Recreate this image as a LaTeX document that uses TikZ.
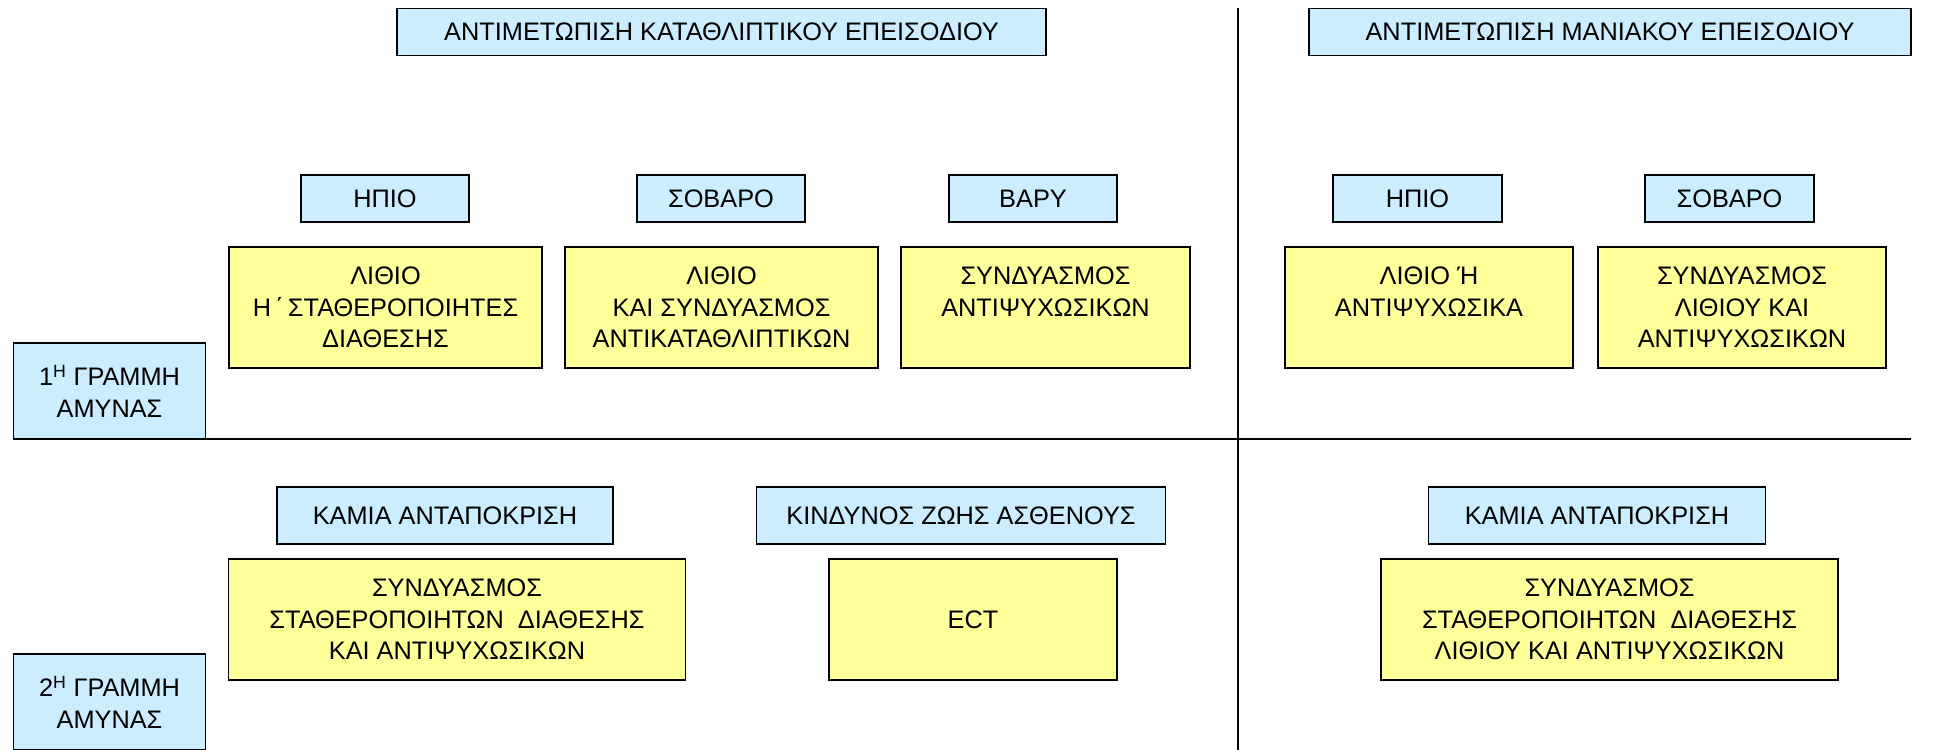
\documentclass[tikz,border=0pt]{standalone}
\usepackage{fontspec}
\setmainfont{Liberation Sans}
\definecolor{paleblue}{RGB}{204,236,255}
\definecolor{paleyellow}{RGB}{255,255,153}
\tikzset{every picture/.style={line width=1.35pt}}
\tikzset{
  boxtext/.style={draw, inner sep=0pt, outer sep=0pt, align=center,
    font=\fontsize{19}{23.6}\selectfont},
  bluebox/.style={boxtext, fill=paleblue},
  yellowbox/.style={boxtext, fill=paleyellow},
  sz/.style 2 args={minimum width=#1*0.75pt, minimum height=#2*0.75pt},
}

\begin{document}
\begin{tikzpicture}[x=0.75pt,y=0.75pt,yscale=-1,xscale=1]
\useasboundingbox (0,0) rectangle (1933,749);

% Headers
\node [bluebox, sz={649}{47}] (hdrdep) at (721.5,32) {ΑΝΤΙΜΕΤΩΠΙΣΗ ΚΑΤΑΘΛΙΠΤΙΚΟΥ ΕΠΕΙΣΟΔΙΟΥ};
\node [bluebox, sz={602}{47}] (hdrman) at (1610,32) {ΑΝΤΙΜΕΤΩΠΙΣΗ ΜΑΝΙΑΚΟΥ ΕΠΕΙΣΟΔΙΟΥ};

% Dividers
\coordinate (vtop) at (1238,8);
\coordinate (vbot) at (1238,760);
\draw (vtop) -- (vbot);

% Lines of defence
\node [bluebox, sz={192}{96}] (linei) at (109.5,391) {1\textsuperscript{Η} ΓΡΑΜΜΗ\\ΑΜΥΝΑΣ};
\node [bluebox, sz={192}{96}] (lineii) at (109.5,702) {2\textsuperscript{Η} ΓΡΑΜΜΗ\\ΑΜΥΝΑΣ};
\coordinate (hend) at (1911,439);
\draw (linei.south west) -- (hend);

% First line: severity
\node [bluebox, sz={168}{47}] (milddep) at (385,198.5) {ΗΠΙΟ};
\node [bluebox, sz={168}{47}] (moddep) at (721,198.5) {ΣΟΒΑΡΟ};
\node [bluebox, sz={168}{47}] (sevdep) at (1033,198.5) {ΒΑΡΥ};
\node [bluebox, sz={169}{47}] (mildman) at (1417.5,198.5) {ΗΠΙΟ};
\node [bluebox, sz={169}{47}] (modman) at (1729.5,198.5) {ΣΟΒΑΡΟ};

% First line: treatment
\node [yellowbox, sz={313}{121}] (trmilddep) at (385.5,307.5) {ΛΙΘΙΟ\\Η\,΄\,ΣΤΑΘΕΡΟΠΟΙΗΤΕΣ\\ΔΙΑΘΕΣΗΣ};
\node [yellowbox, sz={313}{121}] (trmoddep) at (721.5,307.5) {ΛΙΘΙΟ\\ΚΑΙ ΣΥΝΔΥΑΣΜΟΣ\\ΑΝΤΙΚΑΤΑΘΛΙΠΤΙΚΩΝ};
\node [yellowbox, sz={289}{121}] (trsevdep) at (1045.5,307.5) {ΣΥΝΔΥΑΣΜΟΣ\\ΑΝΤΙΨΥΧΩΣΙΚΩΝ\\~};
\node [yellowbox, sz={288}{121}] (trmildman) at (1429,307.5) {ΛΙΘΙΟ Ή\\ΑΝΤΙΨΥΧΩΣΙΚΑ\\~};
\node [yellowbox, sz={288}{121}] (trmodman) at (1742,307.5) {ΣΥΝΔΥΑΣΜΟΣ\\ΛΙΘΙΟΥ ΚΑΙ\\ΑΝΤΙΨΥΧΩΣΙΚΩΝ};

% Second line: condition
\node [bluebox, sz={336}{57}] (nrdep) at (445,515.5) {ΚΑΜΙΑ ΑΝΤΑΠΟΚΡΙΣΗ};
\node [bluebox, sz={409}{57}] (riskdep) at (961,515.5) {ΚΙΝΔΥΝΟΣ ΖΩΗΣ ΑΣΘΕΝΟΥΣ};
\node [bluebox, sz={337}{57}] (nrman) at (1597,515.5) {ΚΑΜΙΑ ΑΝΤΑΠΟΚΡΙΣΗ};

% Second line: treatment
\node [yellowbox, sz={457}{121}] (trnrdep) at (457,619.5) {ΣΥΝΔΥΑΣΜΟΣ\\ΣΤΑΘΕΡΟΠΟΙΗΤΩΝ\ \ ΔΙΑΘΕΣΗΣ\\ΚΑΙ ΑΝΤΙΨΥΧΩΣΙΚΩΝ};
\node [yellowbox, sz={288}{121}] (trriskdep) at (973,619.5) {ECT};
\node [yellowbox, sz={457}{121}] (trnrman) at (1609.5,619.5) {ΣΥΝΔΥΑΣΜΟΣ\\ΣΤΑΘΕΡΟΠΟΙΗΤΩΝ\ \ ΔΙΑΘΕΣΗΣ\\ΛΙΘΙΟΥ ΚΑΙ ΑΝΤΙΨΥΧΩΣΙΚΩΝ};

\end{tikzpicture}
\end{document}
